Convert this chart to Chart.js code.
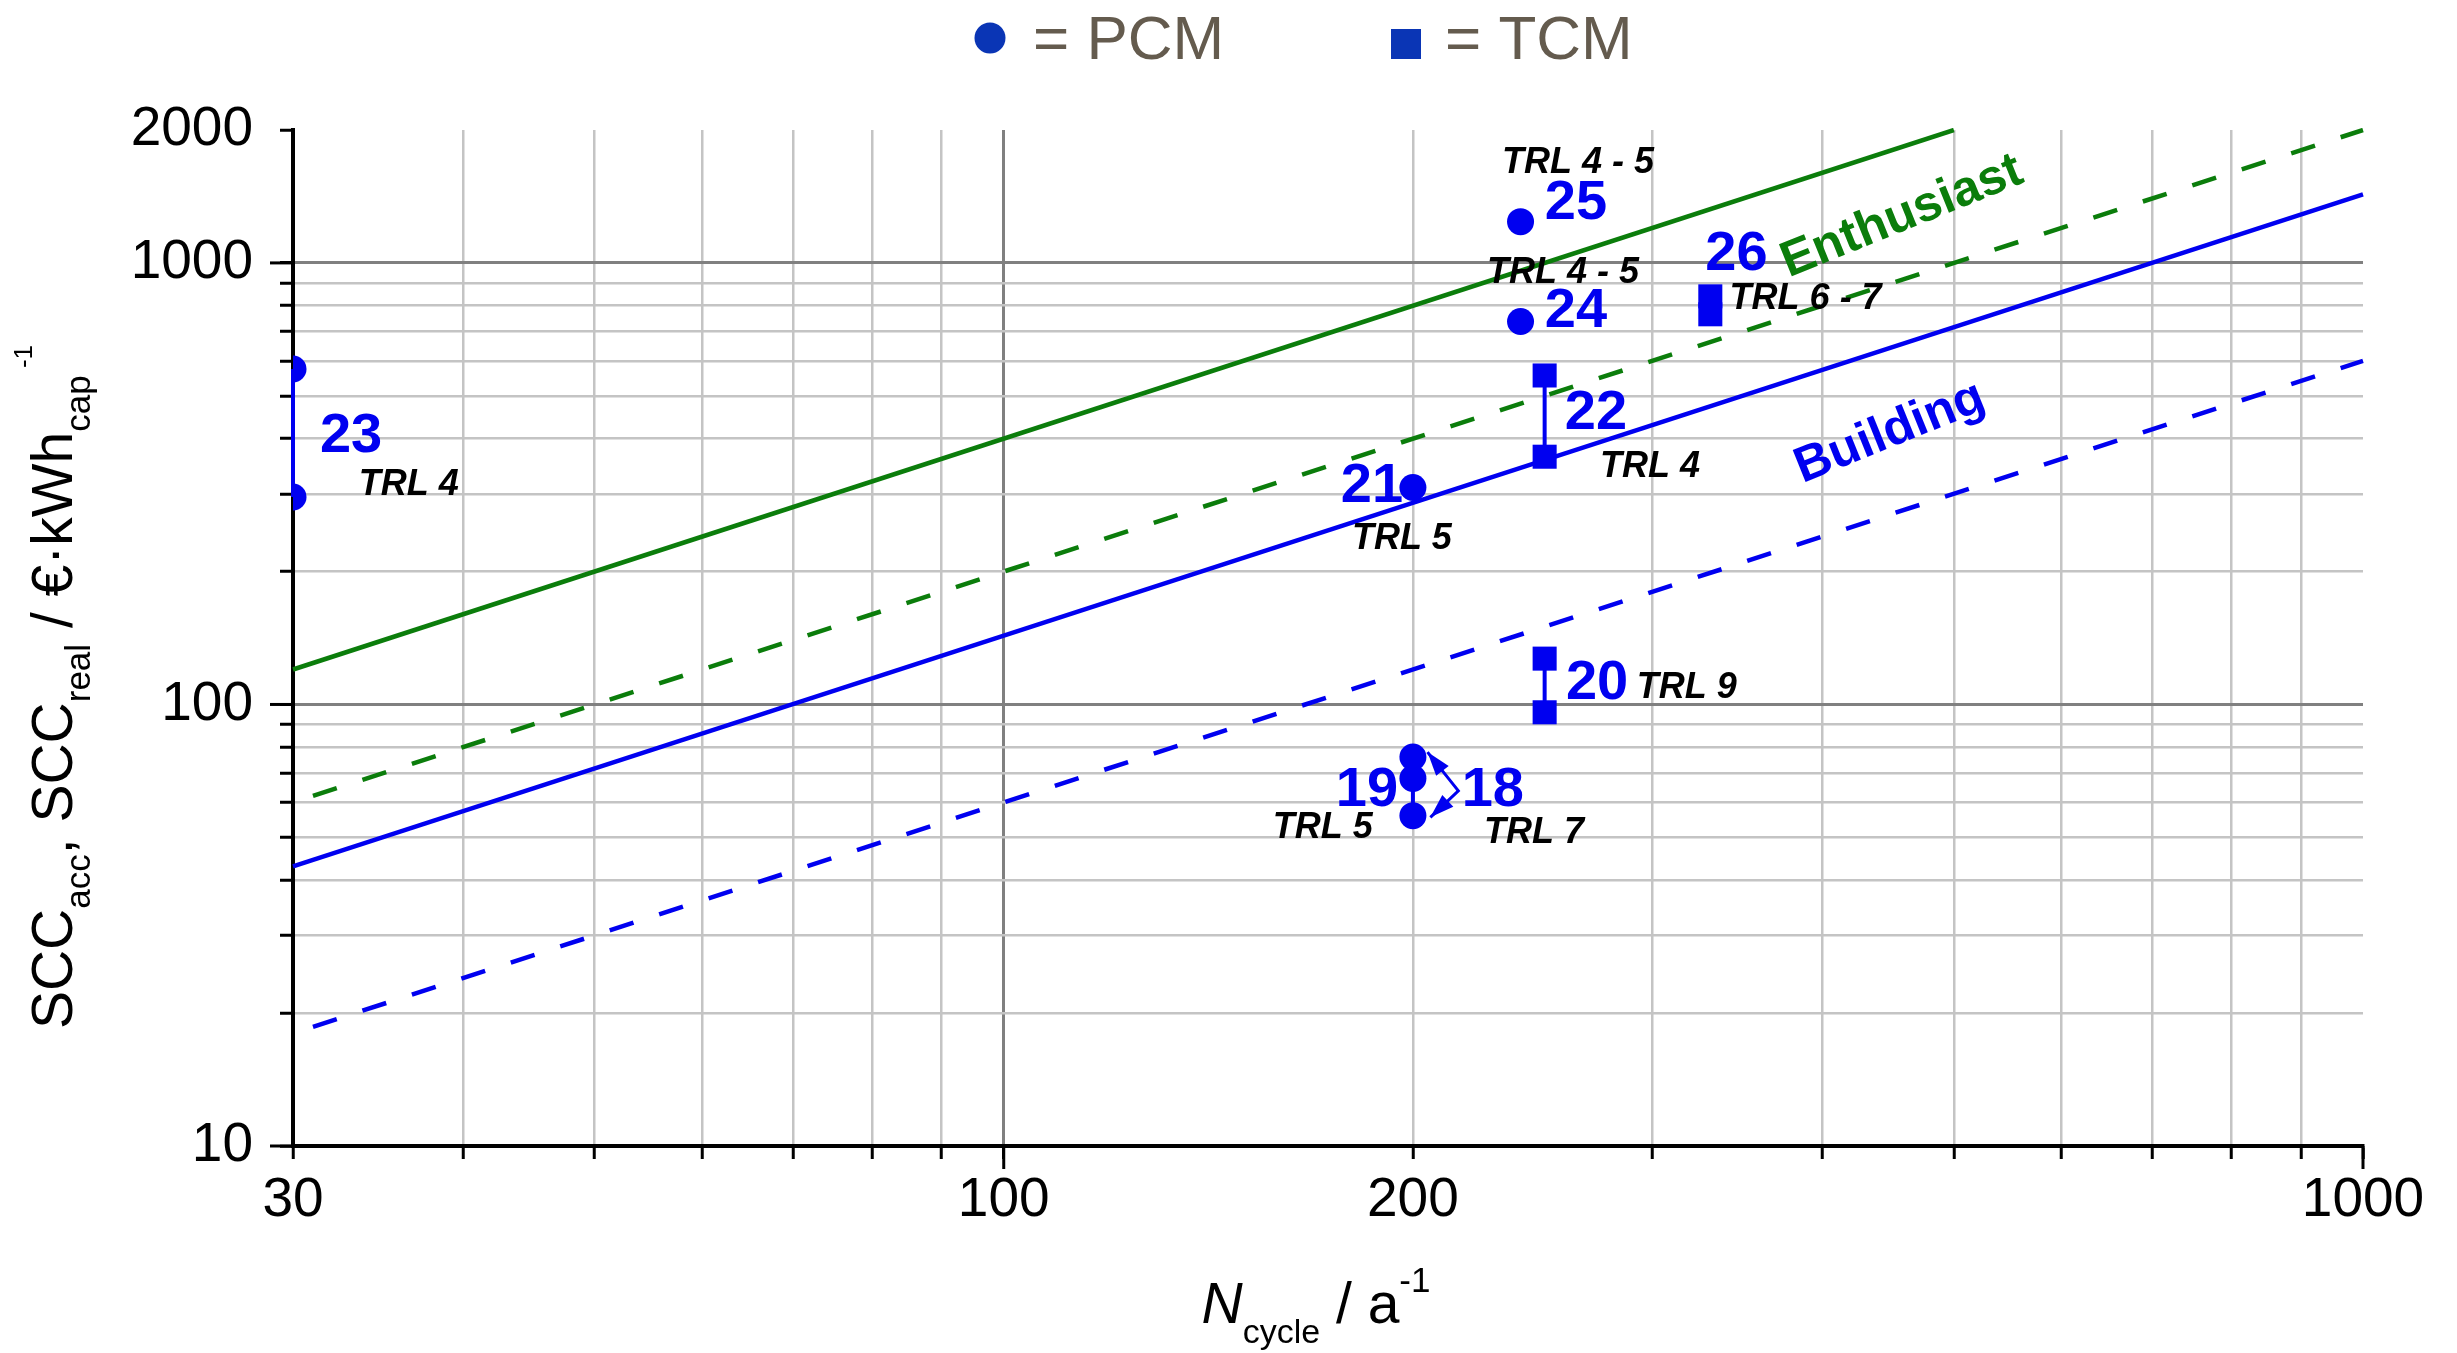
<!DOCTYPE html>
<html>
<head>
<meta charset="utf-8">
<script src="https://cdn.jsdelivr.net/npm/chart.js@4.4.1/dist/chart.umd.min.js"></script>
<style>
  html, body { margin: 0; padding: 0; background: #fff; }
  canvas { display: block; }
</style>
</head>
<body>
<canvas id="chart" width="2457" height="1353"></canvas>
<script>
// axis ticks
const xTicks = [30, 40, 50, 60, 70, 80, 90, 100, 200, 300, 400, 500, 600, 700, 800, 900, 1000];
const xLabelled = [30, 100, 200, 1000];
const yTicks = [10, 20, 30, 40, 50, 60, 70, 80, 90, 100, 200, 300, 400, 500, 600, 700, 800, 900, 1000, 2000];
const yLabelled = [10, 100, 1000, 2000];

// cost lines (N_cycle / a^-1 -> SCC / EUR kWh^-1)
const enthSolidN = [30, 500];
const enthSolidSCC = [120, 2000];
const enthDashN = [30, 1000];
const enthDashSCC = [60, 2000];
const buildSolidN = [30, 1000];
const buildSolidSCC = [43, 1430];
const buildDashN = [30, 1000];
const buildDashSCC = [18, 600];

// PCM systems (circles): 23, 23, 25, 24, 21, 19, 19, 19
const pcmN = [30, 30, 240, 240, 200, 200, 200, 200];
const pcmSCC = [575, 295, 1240, 737, 310, 76, 68, 56];

// TCM systems (squares): 22, 22, 26, 26, 20, 20
const tcmN = [250, 250, 331, 331, 250, 250];
const tcmSCC = [556, 364, 840, 765, 127, 96];

// ranges drawn as bars: 23, 22, 20, 19
const rangeN = [30, 250, 250, 200];
const rangeLow = [295, 364, 96, 56];
const rangeHigh = [575, 556, 127, 76];

// arrows of system 18
const arrowN = [205, 216, 206];
const arrowSCC = [78, 63.7, 55.5];

// text notes: [text, N, SCC, kind]
const notes = [
    ['23', 33.1, 404, 'num'], ['TRL 4', 36.5, 314, 'trl'],
    ['TRL 4 - 5', 264.5, 1685, 'trl'], ['25', 263.6, 1360, 'num'],
    ['TRL 4 - 5', 257.9, 949, 'trl'], ['24', 263.6, 775, 'num'],
    ['26', 346, 1042, 'num'], ['TRL 6 - 7', 389, 829, 'trl'],
    ['22', 272.7, 457, 'num'], ['TRL 4', 298.8, 345, 'trl'],
    ['21', 186.6, 311, 'num'], ['TRL 5', 196.3, 237, 'trl'],
    ['20', 273.2, 111.3, 'num'], ['TRL 9', 318, 109, 'trl'],
    ['19', 185, 63.7, 'num'], ['18', 229, 63.7, 'num'],
    ['TRL 5', 171.7, 52.5, 'trl'], ['TRL 7', 245.5, 51.2, 'trl'],
    ['Enthusiast', 458, 1272, 'ent'], ['Building', 448.7, 412, 'bld']
];

const BLUE = '#0000f0';
const GREEN = '#0b7d0b';
const FAMILY = '"Liberation Sans", Arial, sans-serif';

Chart.defaults.font.family = FAMILY;

const pts = (xs, ys) => xs.map((x, i) => ({ x: x, y: ys[i] }));

function lineSet(xs, ys, color, dashed) {
    return {
        data: pts(xs, ys),
        showLine: true,
        borderColor: color,
        borderWidth: 4.5,
        borderDash: dashed ? [25, 27] : [],
        borderDashOffset: dashed ? 31 : 0,
        pointRadius: 0,
        clip: 2
    };
}

const datasets = [
    {
        data: pts(pcmN, pcmSCC),
        pointStyle: 'circle',
        pointRadius: 13.5,
        pointBorderWidth: 0,
        backgroundColor: BLUE,
        clip: { left: 0, top: false, right: false, bottom: false }
    },
    {
        data: pts(tcmN, tcmSCC),
        pointStyle: 'rect',
        pointRadius: 17,
        pointBorderWidth: 0,
        backgroundColor: BLUE
    },
    {
        data: pts(arrowN, arrowSCC),
        showLine: true,
        borderColor: BLUE,
        borderWidth: 3,
        pointRadius: 0,
        arrow: true
    },
    ...rangeN.map((n, i) => ({
        data: [{ x: n, y: rangeLow[i] }, { x: n, y: rangeHigh[i] }],
        showLine: true,
        borderColor: BLUE,
        borderWidth: 4,
        pointRadius: 0,
        clip: false
    })),
    lineSet(enthSolidN, enthSolidSCC, GREEN, false),
    lineSet(enthDashN, enthDashSCC, GREEN, true),
    lineSet(buildSolidN, buildSolidSCC, BLUE, false),
    lineSet(buildDashN, buildDashSCC, BLUE, true)
];

function font(size, style) {
    return (style || '') + size + 'px ' + FAMILY;
}

// draws a run of text pieces [text, size, dy, style] centred on x
function rich(ctx, parts, x, y) {
    let w = 0;
    parts.forEach(p => { ctx.font = font(p[1], p[3]); p.w = ctx.measureText(p[0]).width; w += p.w; });
    let cx = x - w / 2;
    ctx.textAlign = 'left';
    ctx.textBaseline = 'alphabetic';
    parts.forEach(p => {
        ctx.font = font(p[1], p[3]);
        ctx.fillText(p[0], cx, y + p[2]);
        cx += p.w;
    });
}

function arrowHead(ctx, from, to) {
    const a = Math.atan2(to.y - from.y, to.x - from.x);
    const L = 24, W = 8;
    ctx.beginPath();
    ctx.moveTo(to.x, to.y);
    ctx.lineTo(to.x - L * Math.cos(a) + W * Math.sin(a), to.y - L * Math.sin(a) - W * Math.cos(a));
    ctx.lineTo(to.x - L * Math.cos(a) - W * Math.sin(a), to.y - L * Math.sin(a) + W * Math.cos(a));
    ctx.closePath();
    ctx.fill();
}

const decor = {
    id: 'decor',
    afterDatasetsDraw(chart) {
        const ctx = chart.ctx;
        chart.data.datasets.forEach((ds, i) => {
            if (!ds.arrow) return;
            const p = chart.getDatasetMeta(i).data;
            ctx.save();
            ctx.fillStyle = BLUE;
            arrowHead(ctx, p[1], p[0]);
            arrowHead(ctx, p[1], p[p.length - 1]);
            ctx.restore();
        });
    },
    afterDraw(chart) {
        const ctx = chart.ctx;
        const xs = chart.scales.x, ys = chart.scales.y;
        const area = chart.chartArea;
        ctx.save();

        // longer ticks at the decades
        ctx.strokeStyle = '#000';
        ctx.lineWidth = 3;
        [100, 1000].forEach(v => {
            const px = xs.getPixelForValue(v);
            ctx.beginPath(); ctx.moveTo(px, area.bottom); ctx.lineTo(px, area.bottom + 23); ctx.stroke();
        });
        [10, 100, 1000].forEach(v => {
            const py = ys.getPixelForValue(v);
            ctx.beginPath(); ctx.moveTo(area.left, py); ctx.lineTo(area.left - 23, py); ctx.stroke();
        });

        // notes
        notes.forEach(([text, n, scc, kind]) => {
            const px = xs.getPixelForValue(n), py = ys.getPixelForValue(scc);
            ctx.save();
            ctx.translate(px, py);
            ctx.textAlign = 'center';
            ctx.textBaseline = 'middle';
            if (kind === 'num') { ctx.font = font(56, 'bold '); ctx.fillStyle = BLUE; }
            if (kind === 'trl') { ctx.font = font(36, 'italic bold '); ctx.fillStyle = '#000'; }
            if (kind === 'ent' || kind === 'bld') {
                ctx.rotate(-22 * Math.PI / 180);
                ctx.font = font(50, 'bold ');
                ctx.fillStyle = kind === 'ent' ? GREEN : BLUE;
            }
            ctx.fillText(text, 0, 0);
            ctx.restore();
        });

        // axis titles
        ctx.fillStyle = '#000';
        rich(ctx, [['N', 57, 0, 'italic '], ['cycle', 34, 20, ''], [' / a', 57, 0, ''], ['-1', 35, -31, '']], 1316, 1323);
        ctx.save();
        ctx.translate(72, 687);
        ctx.rotate(-Math.PI / 2);
        rich(ctx, [['SCC', 57, 0, ''], ['acc', 35, 18, ''], [',', 57, 0, ''], [' SCC', 57, 0, ''],
                   ['real', 35, 18, ''], [' / €·kWh', 57, 0, ''], ['cap', 35, 18, ''], [' -1', 26, -40, '']], 0, 0);
        ctx.restore();

        // legend
        ctx.fillStyle = '#0a35b5';
        ctx.beginPath(); ctx.arc(990, 38, 15.5, 0, Math.PI * 2); ctx.fill();
        ctx.fillRect(1391, 29, 30, 30);
        ctx.fillStyle = '#645b4e';
        ctx.font = font(62);
        ctx.textAlign = 'left';
        ctx.textBaseline = 'alphabetic';
        ctx.fillText('= PCM', 1033, 59);
        ctx.fillText('= TCM', 1445, 59);
        ctx.restore();
    }
};

function gridColor(v, major, hidden) {
    if (hidden.includes(v)) return 'rgba(0,0,0,0)';
    return major.includes(v) ? '#808080' : '#c4c4c4';
}

new Chart(document.getElementById('chart'), {
    type: 'scatter',
    data: { datasets: datasets },
    options: {
        responsive: false,
        animation: false,
        layout: { padding: { left: 0, right: 94, top: 130, bottom: 0 } },
        plugins: { legend: { display: false }, tooltip: { enabled: false } },
        scales: {
            x: {
                type: 'logarithmic',
                min: 30,
                max: 1000,
                afterBuildTicks: s => { s.ticks = xTicks.map(v => ({ value: v })); },
                afterFit: s => { s.height = 207; },
                grid: {
                    color: c => gridColor(c.tick.value, [100], [30, 1000]),
                    lineWidth: c => c.tick.value === 100 ? 3 : 2.5,
                    tickColor: '#000',
                    tickWidth: 3,
                    tickLength: 13
                },
                border: { color: '#000', width: 4 },
                ticks: {
                    autoSkip: false,
                    maxRotation: 0,
                    padding: 9,
                    color: '#000',
                    font: { size: 55 },
                    callback: v => xLabelled.includes(v) ? String(v) : ''
                }
            },
            y: {
                type: 'logarithmic',
                min: 10,
                max: 2000,
                afterBuildTicks: s => { s.ticks = yTicks.map(v => ({ value: v })); },
                afterFit: s => { s.width = 293; },
                grid: {
                    color: c => gridColor(c.tick.value, [100, 1000], [10, 2000]),
                    lineWidth: c => [100, 1000].includes(c.tick.value) ? 3 : 2.5,
                    tickColor: '#000',
                    tickWidth: 3,
                    tickLength: 13
                },
                border: { color: '#000', width: 4 },
                ticks: {
                    autoSkip: false,
                    padding: 27,
                    color: '#000',
                    font: { size: 55 },
                    callback: v => yLabelled.includes(v) ? String(v) : ''
                }
            }
        }
    },
    plugins: [decor]
});
</script>
</body>
</html>
